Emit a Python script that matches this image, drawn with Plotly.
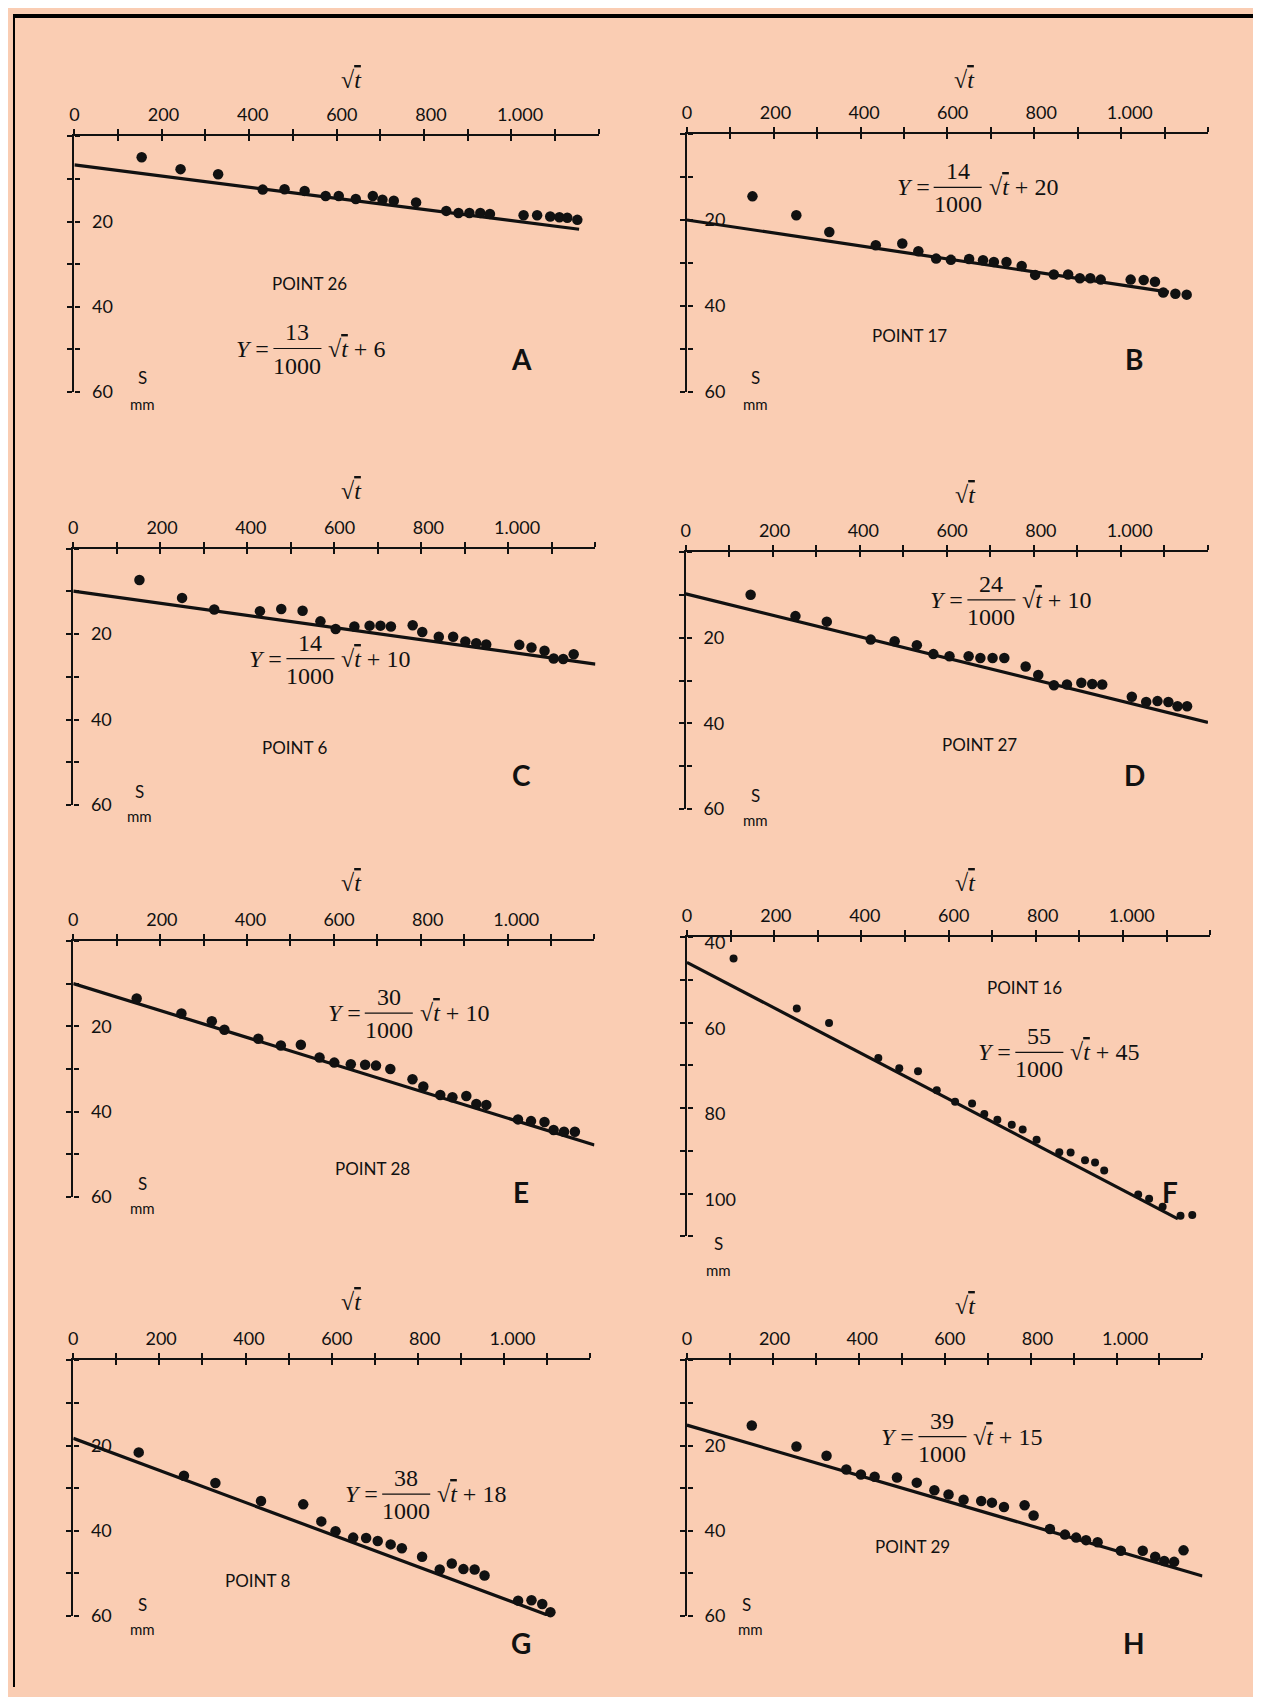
import plotly.graph_objects as go

W, H = 1261, 1705      # page (viewport) size
OFF = 8                # default body margin of the html page
FW, FH = W - 2 * OFF, H - 2 * OFF

# ---------------- data ----------------
panel_ids = ["A", "B", "C", "D", "E", "F", "G", "H"]
point_names = ["POINT 26", "POINT 17", "POINT 6", "POINT 27",
               "POINT 28", "POINT 16", "POINT 8", "POINT 29"]
eq_num = ["13", "14", "14", "24", "30", "55", "38", "39"]
eq_den = "1000"
eq_const = ["6", "20", "10", "10", "10", "45", "18", "15"]

x_tickvals = [0, 100, 200, 300, 400, 500, 600, 700, 800, 900, 1000, 1100, 1200]
x_labelvals = [0, 200, 400, 600, 800, 1000]
x_labeltext = ["0", "200", "400", "600", "800", "1.000"]

y_tickvals_std = [0, 10, 20, 30, 40, 50, 60]
y_ticktext_std = ["", "", "20", "", "40", "", "60"]
y_tickvals_f = [40, 50, 60, 70, 80, 90, 100, 110]
y_ticktext_f = ["40", "", "60", "", "80", "", "100", ""]

A_x = [154, 243, 329, 431, 481, 527, 575, 605, 644, 683, 705, 731, 782, 851, 879, 904, 929, 951, 1028, 1059, 1089, 1110, 1128, 1151]
A_y = [4.9, 7.7, 8.9, 12.5, 12.4, 12.8, 14.0, 14.0, 14.7, 14.0, 14.9, 15.1, 15.5, 17.5, 18.0, 18.0, 18.0, 18.2, 18.5, 18.5, 18.8, 19.0, 19.1, 19.6]
A_line_x = [0, 1155]
A_line_y = [6.7, 21.8]

B_x = [151, 252, 328, 435, 496, 533, 574, 608, 650, 682, 707, 736, 771, 802, 845, 878, 905, 929, 953, 1022, 1052, 1078, 1097, 1125, 1151]
B_y = [14.5, 18.9, 22.8, 25.9, 25.5, 27.3, 29.0, 29.3, 29.1, 29.4, 29.8, 29.8, 30.7, 32.8, 32.7, 32.7, 33.6, 33.6, 33.9, 33.9, 34.0, 34.4, 36.9, 37.2, 37.4]
B_line_x = [0, 1110]
B_line_y = [20.0, 36.8]

C_x = [152, 250, 324, 429, 478, 527, 568, 603, 646, 681, 706, 730, 780, 802, 840, 873, 901, 926, 949, 1025, 1053, 1083, 1104, 1126, 1150]
C_y = [7.3, 11.5, 14.2, 14.6, 14.1, 14.5, 17.0, 18.8, 18.2, 18.0, 18.0, 18.2, 17.9, 19.5, 20.6, 20.6, 21.7, 22.1, 22.4, 22.5, 23.1, 23.9, 25.7, 25.8, 24.7]
C_line_x = [0, 1200]
C_line_y = [9.9, 27.0]

D_x = [149, 252, 324, 425, 480, 531, 569, 606, 650, 677, 705, 732, 781, 810, 846, 876, 909, 934, 957, 1025, 1058, 1084, 1109, 1130, 1152]
D_y = [9.9, 14.9, 16.2, 20.4, 20.8, 21.7, 23.8, 24.3, 24.3, 24.7, 24.7, 24.7, 26.7, 28.7, 31.1, 30.9, 30.5, 30.8, 30.9, 33.8, 35.0, 34.8, 35.0, 36.0, 36.0]
D_line_x = [0, 1200]
D_line_y = [9.7, 39.8]

E_x = [146, 249, 319, 348, 426, 478, 524, 567, 601, 639, 672, 697, 730, 781, 806, 845, 873, 905, 928, 951, 1024, 1054, 1085, 1106, 1130, 1155]
E_y = [13.5, 17.0, 18.8, 20.8, 22.9, 24.5, 24.3, 27.3, 28.5, 28.9, 29.0, 29.2, 30.0, 32.4, 34.1, 36.1, 36.6, 36.3, 38.2, 38.4, 41.8, 42.2, 42.4, 44.3, 44.7, 44.7]
E_line_x = [0, 1200]
E_line_y = [10.0, 47.8]

F_x = [107, 252, 326, 439, 487, 530, 573, 615, 654, 682, 712, 745, 770, 802, 854, 880, 913, 936, 957, 1035, 1060, 1091, 1132, 1159]
F_y = [45.0, 56.7, 60.1, 68.3, 70.7, 71.4, 75.8, 78.5, 78.9, 81.4, 82.7, 83.9, 85.0, 87.4, 90.3, 90.4, 92.2, 92.7, 94.6, 100.2, 101.2, 103.1, 105.2, 105.0]
F_line_x = [0, 1126]
F_line_y = [45.9, 105.9]

G_x = [152, 257, 330, 436, 534, 576, 609, 650, 680, 707, 737, 763, 810, 851, 879, 906, 932, 955, 1033, 1064, 1089, 1108, 1133, 1156]
G_y = [21.6, 27.1, 28.8, 33.0, 33.8, 37.8, 40.1, 41.6, 41.7, 42.4, 43.2, 44.1, 46.1, 49.1, 47.7, 49.0, 49.1, 50.5, 56.4, 56.3, 57.2, 59.1, 60.2, 61.0]
G_line_x = [0, 1200]
G_line_y = [18.3, 63.5]

H_x = [151, 255, 325, 371, 405, 437, 489, 535, 576, 609, 644, 685, 710, 738, 786, 807, 845, 880, 906, 929, 956, 1010, 1061, 1090, 1111, 1134, 1156]
H_y = [15.3, 20.2, 22.4, 25.6, 26.8, 27.3, 27.5, 28.7, 30.5, 31.5, 32.7, 33.0, 33.4, 34.4, 34.0, 36.4, 39.6, 40.9, 41.6, 42.2, 42.7, 44.7, 44.7, 46.1, 47.1, 47.3, 44.6]
H_line_x = [0, 1200]
H_line_y = [15.2, 50.6]

series_x = [A_x, B_x, C_x, D_x, E_x, F_x, G_x, H_x]
series_y = [A_y, B_y, C_y, D_y, E_y, F_y, G_y, H_y]
lines_x = [A_line_x, B_line_x, C_line_x, D_line_x, E_line_x, F_line_x, G_line_x, H_line_x]
lines_y = [A_line_y, B_line_y, C_line_y, D_line_y, E_line_y, F_line_y, G_line_y, H_line_y]
y_ranges = [(0, 60)] * 5 + [(40, 110)] + [(0, 60)] * 2

# ---------------- layout geometry (target pixels in the picture) ----------------
# (x at 0, x at 1200, y top, y bottom)
geom = [
    (73.9, 597.9, 135.9, 391.4),
    (686.0, 1206.7, 133.7, 391.0),
    (72.8, 594.6, 548.0, 804.0),
    (684.9, 1206.7, 551.7, 807.7),
    (72.8, 593.6, 939.8, 1195.8),
    (686.0, 1208.9, 936.0, 1235.0),
    (72.8, 589.2, 1358.9, 1614.3),
    (686.0, 1201.2, 1358.9, 1614.3),
]
LABEL_SPREAD = 1.02    # the printed x labels sit slightly wider apart than the ticks
eq_pos = [(296.8, 347.9), (956.6, 187.0), (309.8, 657.7), (990.3, 599.0),
          (388.1, 1012.0), (1038.2, 1051.2), (405.5, 1492.6), (941.4, 1435.0)]
pt_pos = [(308.7, 282.6), (908.8, 334.8), (293.5, 746.8), (978.4, 743.6),
          (371.8, 1167.5), (1023.0, 986.0), (256.6, 1578.5), (911.0, 1544.8)]
letter_pos = [(520.7, 358.7), (1132.8, 358.7), (520.7, 774.0), (1132.8, 774.0),
              (520.7, 1190.4), (1168.6, 1190.4), (520.7, 1641.5), (1132.8, 1641.5)]
sqrt_pos = [(351.1, 79.4), (963.2, 79.4), (351.1, 490.3), (964.3, 494.6),
            (351.1, 881.6), (964.3, 881.6), (351.1, 1300.2), (964.3, 1304.5)]
s_pos = [(142.4, 377.2), (754.4, 377.2), (139.1, 790.3), (754.4, 794.7),
         (142.4, 1181.7), (717.5, 1242.5), (142.4, 1602.4), (745.7, 1602.4)]
mm_pos = [(142.4, 403.3), (754.4, 403.3), (139.1, 815.3), (754.4, 818.6),
          (142.4, 1206.7), (717.5, 1268.6), (142.4, 1627.4), (750.0, 1627.4)]

BG = "#FACDB3"
INK = "#111111"
SANS = "Lato, 'Open Sans', sans-serif"
SERIF = "'Liberation Serif', 'DejaVu Serif', serif"
SQRT_T = "\u221a<span style='text-decoration:overline'><i>t</i></span>"


# picture -> page calibration (fitted on test renders)
def page_x(x):
    return (x - 4.6) / 0.9953


def page_y(y):
    return 1.01042 * y - 5.82


def px(x):
    return (page_x(x) - OFF) / FW


def py(y):
    return 1 - (page_y(y) - OFF) / FH


def dummy(fig, xa, ya):
    fig.add_trace(go.Scatter(x=[None], y=[None], xaxis=xa, yaxis=ya,
                             showlegend=False, hoverinfo="skip"))


fig = go.Figure()
layout = {}
annotations = []
shapes = []
tickfont = dict(family=SANS, size=18, color=INK)

for i in range(8):
    n = i + 1
    sx = "" if n == 1 else str(n)
    on = str(n + 8)
    ol = str(n + 16)
    x0, x1, yt, yb = geom[i]
    ymin, ymax = y_ranges[i]
    if i == 5:
        ytv, ytt = y_tickvals_f, y_ticktext_f
        msize = 8
        yshift = -6
    else:
        ytv, ytt = y_tickvals_std, y_ticktext_std
        msize = 10.5
        yshift = 0

    layout["xaxis" + sx] = dict(
        domain=[px(x0), px(x1)], range=[0, 1200], side="top", anchor="y" + sx,
        showline=True, linecolor=INK, linewidth=2, ticks="outside", ticklen=5,
        tickwidth=1.5, tickcolor=INK, tickvals=x_tickvals, showticklabels=False,
        showgrid=False, zeroline=False)
    layout["yaxis" + sx] = dict(
        domain=[py(yb), py(yt)], range=[ymax, ymin], anchor="x" + sx, side="left",
        showline=True, linecolor=INK, linewidth=2, ticks="outside", ticklen=5,
        tickwidth=1.5, tickcolor=INK, tickvals=ytv, showticklabels=False,
        showgrid=False, zeroline=False)
    # inner half of the crossing ticks
    layout["xaxis" + on] = dict(
        overlaying="x" + sx, anchor="y" + sx, side="top", range=[0, 1200],
        showline=False, ticks="inside", ticklen=5, tickwidth=1.5, tickcolor=INK,
        tickvals=x_tickvals, showticklabels=False, showgrid=False, zeroline=False)
    layout["yaxis" + on] = dict(
        overlaying="y" + sx, anchor="free", position=px(x0), side="right",
        range=[ymax, ymin], showline=False, ticks="outside", ticklen=5,
        tickwidth=1.5, tickcolor=INK, tickvals=ytv, ticktext=ytt,
        tickfont=tickfont, ticklabelstandoff=8, ticklabelshift=yshift,
        showgrid=False, zeroline=False)
    # x labels (printed slightly wider apart than the ticks)
    layout["xaxis" + ol] = dict(
        overlaying="x" + sx, anchor="y" + sx, side="top",
        range=[0, 1200 / LABEL_SPREAD], showline=False, ticks="outside", ticklen=5,
        tickcolor="rgba(0,0,0,0)", tickvals=x_labelvals, ticktext=x_labeltext,
        tickfont=tickfont, ticklabelstandoff=2, showgrid=False, zeroline=False)

    dummy(fig, "x" + on, "y" + sx)
    dummy(fig, "x" + sx, "y" + on)
    dummy(fig, "x" + ol, "y" + sx)

    fig.add_trace(go.Scatter(x=lines_x[i], y=lines_y[i], mode="lines",
                             line=dict(color=INK, width=3.2),
                             xaxis="x" + sx, yaxis="y" + sx, showlegend=False))
    fig.add_trace(go.Scatter(x=series_x[i], y=series_y[i], mode="markers",
                             marker=dict(color=INK, size=msize),
                             xaxis="x" + sx, yaxis="y" + sx, showlegend=False,
                             cliponaxis=False))

    fx, cy = eq_pos[i]
    efont = dict(family=SERIF, size=24, color=INK)
    annotations += [
        dict(text="<i>Y</i> =", x=px(fx - 26), y=py(cy), xanchor="right", yanchor="middle",
             font=efont),
        dict(text=eq_num[i], x=px(fx), y=py(cy - 16), xanchor="center", yanchor="middle",
             font=efont),
        dict(text=eq_den, x=px(fx), y=py(cy + 17), xanchor="center", yanchor="middle",
             font=efont),
        dict(text=SQRT_T + " + " + eq_const[i],
             x=px(fx + 29), y=py(cy), xanchor="left", yanchor="middle", font=efont),
    ]
    shapes.append(dict(type="line", xref="paper", yref="paper",
                       x0=px(fx - 24), x1=px(fx + 24), y0=py(cy), y1=py(cy),
                       line=dict(color=INK, width=1.2)))

    ppx, ppy = pt_pos[i]
    annotations.append(dict(text=point_names[i], x=px(ppx), y=py(ppy), xanchor="center",
                            yanchor="middle", font=dict(family=SANS, size=17, color=INK)))
    lx, ly = letter_pos[i]
    annotations.append(dict(text="<b>" + panel_ids[i] + "</b>", x=px(lx), y=py(ly),
                            xanchor="center", yanchor="middle",
                            font=dict(family=SANS, size=28, color=INK)))
    qx, qy = sqrt_pos[i]
    annotations.append(dict(text=SQRT_T, x=px(qx), y=py(qy), xanchor="center",
                            yanchor="middle", font=dict(family=SERIF, size=24, color=INK)))
    sx_, sy_ = s_pos[i]
    annotations.append(dict(text="S", x=px(sx_), y=py(sy_), xanchor="center", yanchor="middle",
                            font=dict(family=SANS, size=17, color=INK)))
    mx, my = mm_pos[i]
    annotations.append(dict(text="mm", x=px(mx), y=py(my), xanchor="center", yanchor="middle",
                            font=dict(family=SANS, size=15, color=INK)))

for a in annotations:
    a.update(xref="paper", yref="paper", showarrow=False)

# page frame: heavy rule on top, thin rule on the left
shapes = [
    dict(type="line", xref="paper", yref="paper", x0=0, x1=1, y0=1 - 2 / FH, y1=1 - 2 / FH,
         line=dict(color="black", width=4)),
    dict(type="line", xref="paper", yref="paper", x0=1 / FW, x1=1 / FW, y0=0, y1=1 - 2 / FH,
         line=dict(color="black", width=2)),
] + shapes

fig.update_layout(
    width=FW, height=FH, margin=dict(l=0, r=0, t=0, b=0),
    paper_bgcolor=BG, plot_bgcolor="rgba(0,0,0,0)",
    showlegend=False, annotations=annotations, shapes=shapes, **layout)

fig.write_html("out.html", config={"displayModeBar": False})
